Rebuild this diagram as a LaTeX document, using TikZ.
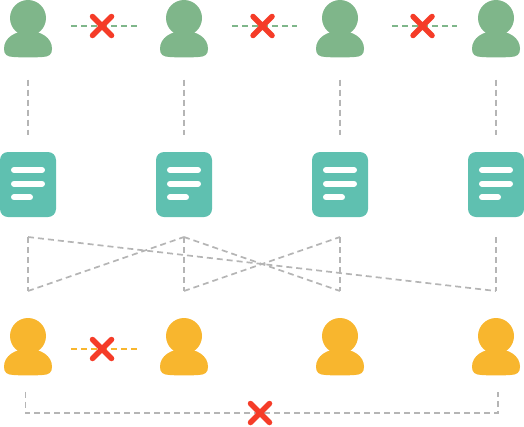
\documentclass[tikz,border=0pt]{standalone}
\usetikzlibrary{positioning,shapes.misc}
\definecolor{usergreen}{HTML}{7FB68A}
\definecolor{useramber}{HTML}{F8B62E}
\definecolor{docteal}{HTML}{5FC0B0}
\definecolor{crossred}{HTML}{F53C28}
\definecolor{linkgray}{HTML}{B5B5B5}
\tikzset{
  person/.style = {inner sep=0pt, outer sep=0pt, minimum width=48pt, minimum height=57.5pt,
                   path picture={
                     \fill[#1] (0,-10.75) circle (18pt);
                     \fill[#1] (-24,20) .. controls (-24,9) and (-13,2.2) .. (0,2.2)
                       .. controls (13,2.2) and (24,9) .. (24,20)
                       .. controls (24,26) and (21,28) .. (14,28.3)
                       .. controls (5,28.8) and (-5,28.8) .. (-14,28.3)
                       .. controls (-21,28) and (-24,26) .. (-24,20) -- cycle;
                   }},
  doc/.style    = {inner sep=0pt, outer sep=0pt, minimum width=56pt, minimum height=65pt,
                   rounded corners=8pt, fill=docteal,
                   path picture={
                     \draw[white, line width=6pt, line cap=round] (-14,-14.5) -- (14,-14.5);
                     \draw[white, line width=6pt, line cap=round] (-14,-0.8) -- (14,-0.8);
                     \draw[white, line width=6pt, line cap=round] (-14,12.8) -- (2,12.8);
                   }},
  nolink/.style = {shape=cross out, draw=crossred, line width=5.5pt, line cap=round,
                   inner sep=0pt, outer sep=0pt, minimum size=19pt, solid},
  lnk/.style    = {draw=linkgray, line width=1.7pt, dash pattern=on 6pt off 4pt},
  lnkg/.style   = {draw=usergreen, line width=1.7pt, dash pattern=on 6pt off 4pt},
  lnka/.style   = {draw=useramber, line width=1.7pt, dash pattern=on 6pt off 4pt},
}
\begin{document}
\begin{tikzpicture}[x=1pt, y=-1pt]
  \useasboundingbox (0,0) rectangle (524,426);
  % top users
  \node[person=usergreen] (g1) at (28,28.75) {};
  \node[person=usergreen, right=108pt of g1] (g2) {};
  \node[person=usergreen, right=108pt of g2] (g3) {};
  \node[person=usergreen, right=108pt of g3] (g4) {};
  % documents
  \node[doc, below=94.5pt of g1] (d1) {};
  \node[doc, right=100pt of d1] (d2) {};
  \node[doc, right=100pt of d2] (d3) {};
  \node[doc, right=100pt of d3] (d4) {};
  % bottom users
  \node[person=useramber, below=101pt of d1] (a1) {};
  \node[person=useramber, right=108pt of a1] (a2) {};
  \node[person=useramber, right=108pt of a2] (a3) {};
  \node[person=useramber, right=108pt of a3] (a4) {};
  % users to documents
  \draw[lnk] ([yshift=-22pt]g1.south) -- ([yshift=17pt]d1.north);
  \draw[lnk] ([yshift=-22pt]g2.south) -- ([yshift=17pt]d2.north);
  \draw[lnk] ([yshift=-22pt]g3.south) -- ([yshift=17pt]d3.north);
  \draw[lnk] ([yshift=-22pt]g4.south) -- ([yshift=17pt]d4.north);
  % crossing links
  \coordinate (t1) at ([yshift=-20pt]d1.south);
  \coordinate (t2) at ([yshift=-20pt]d2.south);
  \coordinate (t3) at ([yshift=-20pt]d3.south);
  \coordinate (t4) at ([yshift=-20pt]d4.south);
  \coordinate (b1) at ([yshift=27pt]a1.north);
  \coordinate (b2) at ([yshift=27pt]a2.north);
  \coordinate (b3) at ([yshift=27pt]a3.north);
  \coordinate (b4) at ([yshift=27pt]a4.north);
  \draw[lnk] (t1) -- (b1);
  \draw[lnk] (t2) -- (b2);
  \draw[lnk] (t3) -- (b3);
  \draw[lnk] (t4) -- (b4);
  \draw[lnk] (t1) -- (b4);
  \draw[lnk] (b1) -- (t2);
  \draw[lnk] (t2) -- (b3);
  \draw[lnk] (b2) -- (t3);
  % green links, all cut
  \draw[lnkg] ([shift={(19,-2.75)}]g1.east) -- node[nolink, pos=0.47] (x1) {} ([shift={(-23,-2.75)}]g2.west);
  \draw[lnkg] ([shift={(24,-2.75)}]g2.east) -- node[nolink, pos=0.47] (x2) {} ([shift={(-19,-2.75)}]g3.west);
  \draw[lnkg] ([shift={(28,-2.75)}]g3.east) -- node[nolink, pos=0.47] (x3) {} ([shift={(-15,-2.75)}]g4.west);
  % amber link
  \draw[lnka] ([shift={(19,2.25)}]a1.east) -- node[nolink, pos=0.47] (x4) {} ([shift={(-23,2.25)}]a2.west);
  % bottom bracket
  \coordinate (l1) at ([shift={(-2.5,16)}]a1.south);
  \coordinate (l2) at ([shift={(2,16)}]a4.south);
  \draw[lnk] (l1) -- ++(0,21.5) -| (l2);
  \node[nolink] (x5) at (260,413) {};
\end{tikzpicture}
\end{document}
